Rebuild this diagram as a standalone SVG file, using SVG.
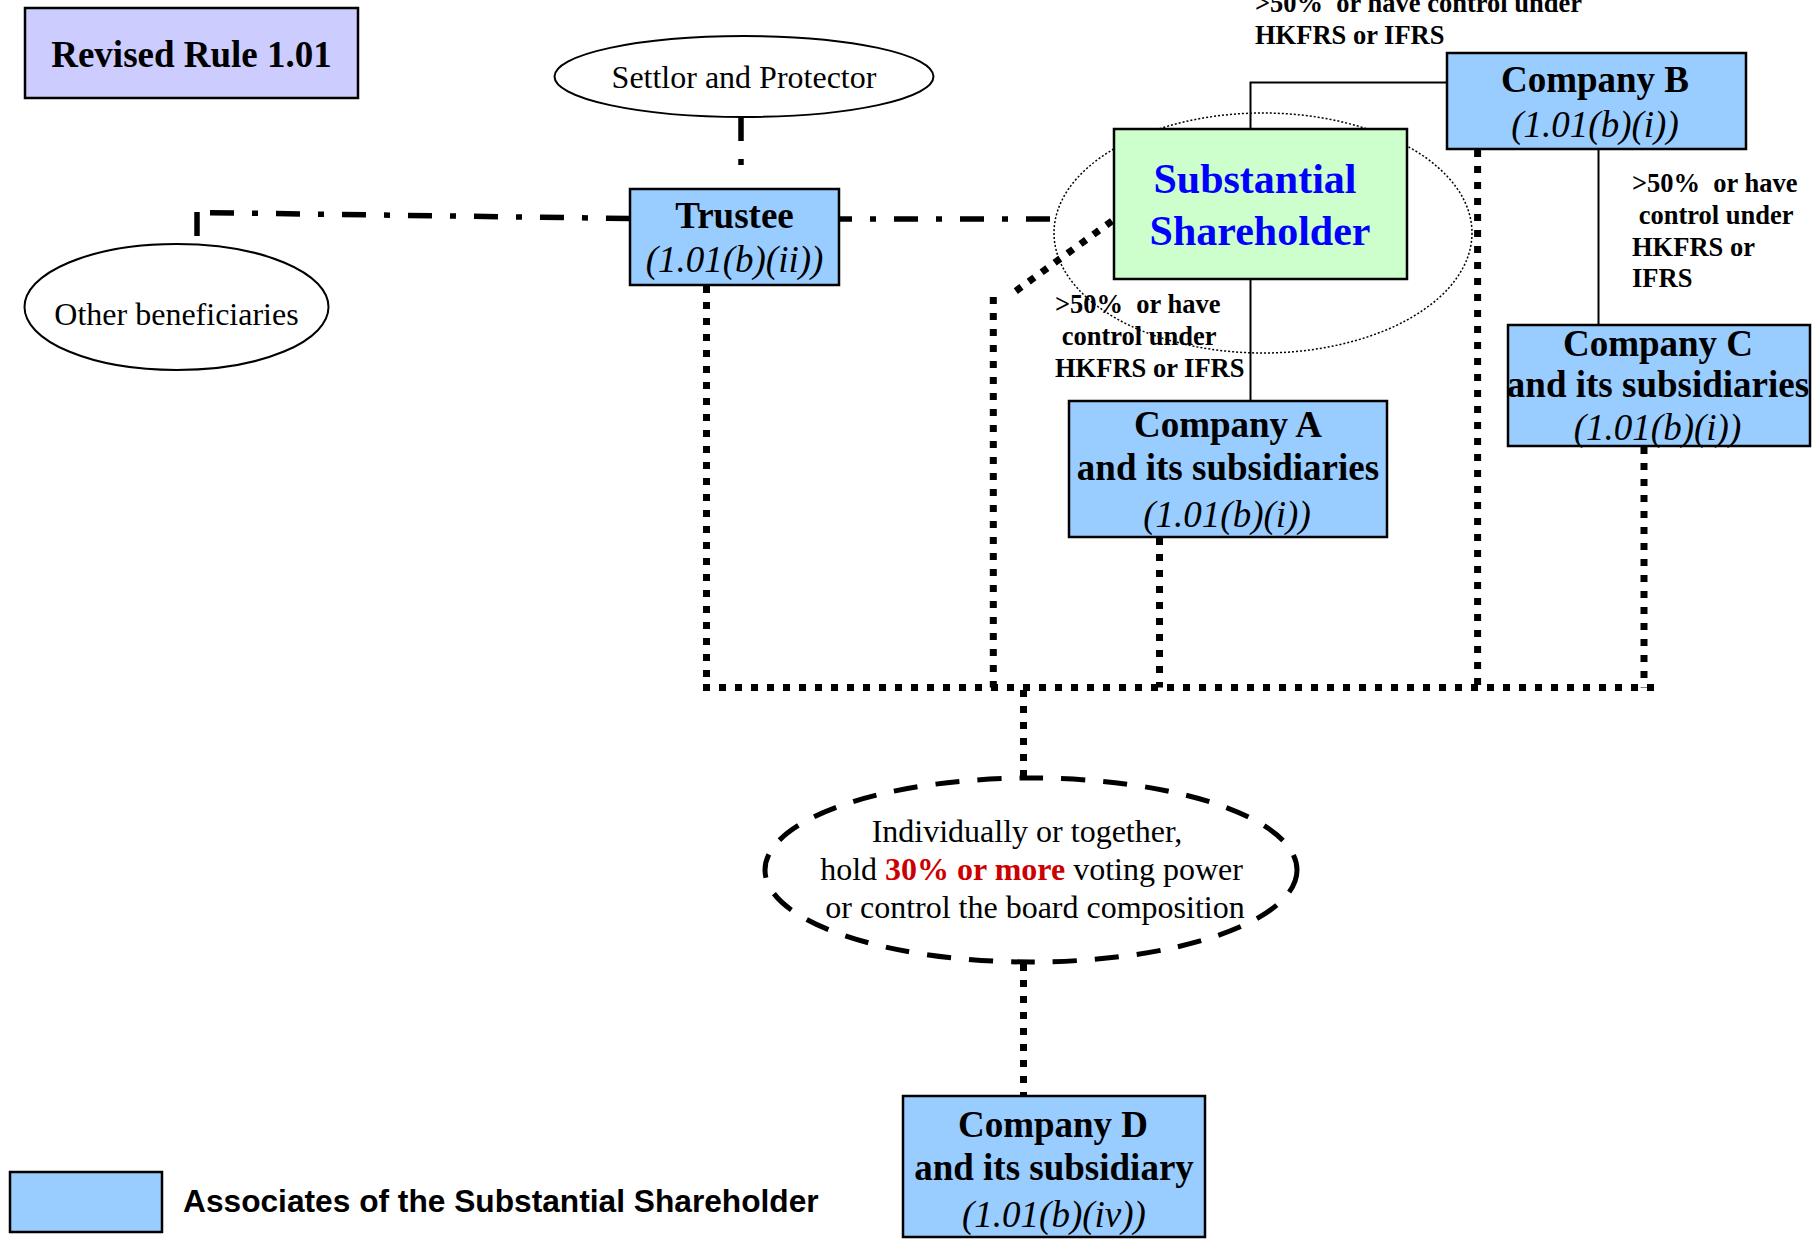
<svg xmlns="http://www.w3.org/2000/svg" width="1820" height="1239" viewBox="0 0 1820 1239">
  <defs>
    <style>
      .serif { font-family: "Liberation Serif", "Times New Roman", serif; }
      .box { stroke: #000; stroke-width: 2.5; }
      .assoc { fill: #99ccff; }
      .title { font-size: 37px; font-weight: bold; }
      .ref { font-size: 37px; font-style: italic; }
      .plain { font-size: 32px; }
      .note { font-size: 26.5px; font-weight: bold; }
      .dashdot { fill: none; stroke: #000; stroke-width: 5.5; stroke-dasharray: 24 18 6 18; }
      .dotted { fill: none; stroke: #000; stroke-width: 7; stroke-dasharray: 7 9; }
      .thin { fill: none; stroke: #000; stroke-width: 2; }
    </style>
  </defs>
  <rect width="1820" height="1239" fill="#fff"/>

  <!-- connectors -->
  <g id="connectors">
    <!-- trust relationships (dash-dot) -->
    <line class="dashdot" x1="741" y1="117" x2="741" y2="182"/>
    <line class="dashdot" x1="197" y1="236" x2="197" y2="212" stroke-dasharray="24 100"/>
    <line class="dashdot" x1="210" y1="212.7" x2="630" y2="218.5"/>
    <line class="dashdot" x1="838" y1="219" x2="1050" y2="219" stroke-dashoffset="10"/>

    <!-- control relationships (solid) -->
    <line class="thin" x1="1250.5" y1="279" x2="1250.5" y2="401"/>
    <polyline class="thin" points="1250.5,129 1250.5,82.5 1447,82.5"/>
    <line class="thin" x1="1598.5" y1="149" x2="1598.5" y2="325"/>

    <!-- aggregation (dotted) -->
    <line class="dotted" x1="706.5" y1="286" x2="706.5" y2="687.5"/>
    <line class="dotted" x1="703" y1="687.5" x2="1657" y2="687.5"/>
    <line class="dotted" x1="1112" y1="221" x2="1009" y2="296"/>
    <line class="dotted" x1="993.3" y1="297" x2="993.3" y2="687.5"/>
    <line class="dotted" x1="1159.5" y1="538" x2="1159.5" y2="687.5"/>
    <line class="dotted" x1="1477.6" y1="150" x2="1477.6" y2="687.5"/>
    <line class="dotted" x1="1644" y1="447" x2="1644" y2="687.5"/>
    <line class="dotted" x1="1023.5" y1="690" x2="1023.5" y2="776"/>
    <line class="dotted" x1="1023.5" y1="964" x2="1023.5" y2="1096"/>

    <!-- control labels -->
    <g class="serif note">
      <text x="1255" y="12">&gt;50%&#160; or have control under</text>
      <text x="1255" y="44">HKFRS or IFRS</text>
      <text x="1055" y="313">&gt;50%&#160; or have</text>
      <text x="1055" y="345">&#160;control under</text>
      <text x="1055" y="377">HKFRS or IFRS</text>
      <text x="1632" y="192">&gt;50%&#160; or have</text>
      <text x="1632" y="224">&#160;control under</text>
      <text x="1632" y="256">HKFRS or</text>
      <text x="1632" y="287">IFRS</text>
    </g>
  </g>

  <!-- heading -->
  <g id="heading">
    <rect class="box" x="25" y="8" width="333" height="90" fill="#ccccff" stroke-width="2"/>
    <text class="serif title" x="191.5" y="67" text-anchor="middle">Revised Rule 1.01</text>
  </g>

  <g id="settlor">
    <ellipse cx="744" cy="76.5" rx="189.5" ry="40.5" fill="#fff" stroke="#000" stroke-width="2"/>
    <text class="serif plain" x="744" y="88" text-anchor="middle">Settlor and Protector</text>
  </g>

  <g id="beneficiaries">
    <ellipse cx="176.5" cy="307" rx="152" ry="63" fill="#fff" stroke="#000" stroke-width="2"/>
    <text class="serif plain" x="176.5" y="325" text-anchor="middle">Other beneficiaries</text>
  </g>

  <g id="trustee">
    <rect class="box assoc" x="630" y="189" width="209" height="96"/>
    <text class="serif title" x="734.5" y="228" text-anchor="middle">Trustee</text>
    <text class="serif ref" x="734.5" y="272" text-anchor="middle">(1.01(b)(ii))</text>
  </g>

  <g id="substantial-shareholder">
    <ellipse cx="1263" cy="233" rx="209" ry="120" fill="none" stroke="#000" stroke-width="1.5" stroke-dasharray="2 2"/>
    <rect class="box" x="1114" y="129" width="293" height="150" fill="#ccffcc"/>
    <text class="serif" x="1255" y="193" text-anchor="middle" font-size="42" font-weight="bold" fill="#0000ff">Substantial</text>
    <text class="serif" x="1260" y="245" text-anchor="middle" font-size="42" font-weight="bold" fill="#0000ff">Shareholder</text>
  </g>

  <g id="company-b">
    <rect class="box assoc" x="1447" y="53" width="299" height="96"/>
    <text class="serif title" x="1595" y="92" text-anchor="middle">Company B</text>
    <text class="serif ref" x="1595" y="137" text-anchor="middle">(1.01(b)(i))</text>
  </g>

  <g id="company-a">
    <rect class="box assoc" x="1069" y="401" width="318" height="136"/>
    <text class="serif title" x="1228" y="437" text-anchor="middle">Company A</text>
    <text class="serif title" x="1228" y="480" text-anchor="middle">and its subsidiaries</text>
    <text class="serif ref" x="1227" y="527" text-anchor="middle">(1.01(b)(i))</text>
  </g>

  <g id="company-c">
    <rect class="box assoc" x="1508" y="325" width="302" height="121"/>
    <text class="serif title" x="1658" y="356" text-anchor="middle" font-size="34">Company C</text>
    <text class="serif title" x="1658" y="397" text-anchor="middle" font-size="34">and its subsidiaries</text>
    <text class="serif ref" x="1657.5" y="440" text-anchor="middle">(1.01(b)(i))</text>
  </g>

  <g id="threshold">
    <ellipse cx="1031" cy="870" rx="266" ry="92" fill="none" stroke="#000" stroke-width="5" stroke-dasharray="24 18"/>
    <text class="serif plain" x="1027" y="842" text-anchor="middle">Individually or together,</text>
    <text class="serif plain" x="1031.5" y="880" text-anchor="middle">hold <tspan font-weight="bold" fill="#cc0000">30% or more</tspan> voting power</text>
    <text class="serif plain" x="1035" y="918" text-anchor="middle">or control the board composition</text>
  </g>

  <g id="company-d">
    <rect class="box assoc" x="903" y="1096" width="302" height="141"/>
    <text class="serif title" x="1053" y="1137" text-anchor="middle">Company D</text>
    <text class="serif title" x="1054" y="1180" text-anchor="middle" font-size="35.5">and its subsidiary</text>
    <text class="serif ref" x="1054" y="1227" text-anchor="middle">(1.01(b)(iv))</text>
  </g>

  <g id="legend">
    <rect class="box assoc" x="10" y="1172" width="152" height="60"/>
    <text x="183" y="1212" font-family="'Liberation Sans', Arial, sans-serif" font-size="31.7" font-weight="bold">Associates of the Substantial Shareholder</text>
  </g>
</svg>
